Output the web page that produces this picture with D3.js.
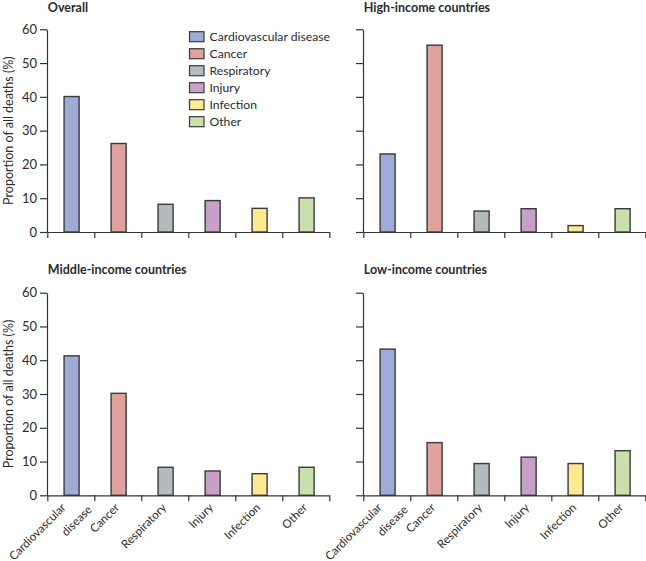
<!DOCTYPE html>
<html><head><meta charset="utf-8">
<script src="https://cdn.jsdelivr.net/npm/d3@7"></script>
<style>
body{margin:0;background:#fff;}
text{font-family:Lato,"Open Sans",sans-serif;fill:#2b2b2b;}
</style></head>
<body><svg id="c" width="646" height="561"></svg>
<script>
const categories = ["Cardiovascular disease","Cancer","Respiratory","Injury","Infection","Other"];
const xLabels = [["Cardiovascular","disease"],["Cancer"],["Respiratory"],["Injury"],["Infection"],["Other"]];
const colors = ["#9eabd5","#dfa29c","#b3bbbf","#c6a0c6","#fde98f","#c8e0ab"];
const panelTitles = ["Overall","High-income countries","Middle-income countries","Low-income countries"];
const overall = [40.1, 26.2, 8.2, 9.3, 7.0, 10.1];
const highIncome = [23.1, 55.3, 6.2, 6.9, 1.9, 6.9];
const middleIncome = [41.3, 30.2, 8.3, 7.2, 6.4, 8.3];
const lowIncome = [43.3, 15.6, 9.4, 11.3, 9.4, 13.2];
const yTicks = [0,10,20,30,40,50,60];
const yTitle = "Proportion of all deaths (%)";

const series = [overall, highIncome, middleIncome, lowIncome];
const svg = d3.select("#c");
const panels = [
  {x0:47.3, x1:329.3, yTop:29.3, yBot:232, left:true, bottomLabels:false, titleY:11.5},
  {x0:363.3, x1:645.3, yTop:29.3, yBot:232, left:false, bottomLabels:false, titleY:11.5},
  {x0:47.3, x1:329.3, yTop:292.7, yBot:495.3, left:true, bottomLabels:true, titleY:273.5},
  {x0:363.3, x1:645.3, yTop:292.7, yBot:495.3, left:false, bottomLabels:true, titleY:273.5}
];

panels.forEach((p,i)=>{
  const g = svg.append("g");
  const y = d3.scaleLinear().domain([0,60]).range([p.yBot,p.yTop]);
  const xb = d3.scaleBand().domain(categories).range([p.x0,p.x1]).paddingInner(0.68).paddingOuter(0.34);
  const xl = d3.scaleLinear().domain([0,6]).range([p.x0,p.x1]);

  // bars
  g.selectAll("rect.bar").data(series[i]).enter().append("rect")
    .attr("x",(d,j)=>xb(categories[j])+0.8)
    .attr("y",d=>y(d))
    .attr("width",xb.bandwidth())
    .attr("height",d=>p.yBot-y(d))
    .attr("fill",(d,j)=>colors[j])
    .attr("stroke","#3a3a3a").attr("stroke-width",1.4);

  // y axis
  const ya = d3.axisLeft(y).tickValues(yTicks).tickSize(7).tickSizeOuter(0).tickPadding(3)
    .tickFormat(p.left? d3.format("d") : ()=> "");
  const yg = g.append("g").attr("transform",`translate(${p.x0-0.3},0)`).call(ya);
  yg.selectAll("path,line").attr("stroke","#333").attr("stroke-width",1.2);
  yg.selectAll("text").style("font-size","13px").attr("fill","#333").style("font-family","Lato,sans-serif");

  // x axis
  const xa = d3.axisBottom(xl).tickValues(d3.range(7)).tickSize(6).tickSizeOuter(0).tickFormat(()=> "");
  const xg = g.append("g").attr("transform",`translate(0,${p.yBot})`).call(xa);
  xg.selectAll("path,line").attr("stroke","#333").attr("stroke-width",1.2);

  // title
  g.append("text").attr("x",p.x0+0.5).attr("y",p.titleY)
    .style("font-weight","bold").style("font-size","12.5px").text(panelTitles[i]);

  // y title
  if(p.left){
    g.append("text").attr("transform",`translate(13,${(p.yTop+p.yBot)/2}) rotate(-90)`)
      .attr("text-anchor","middle").style("font-size","12.5px").text(yTitle);
  }

  // x labels
  if(p.bottomLabels){
    const fs = "11.6px";
    xLabels.forEach((lines,j)=>{
      const cx = xb(categories[j]) + 0.8 + xb.bandwidth()/2;
      if(lines.length===1){
        g.append("text").attr("transform",`translate(${cx+1.5},${p.yBot+13}) rotate(-45)`)
          .attr("text-anchor","end").style("font-size",fs).text(lines[0]);
      } else {
        g.append("text").attr("transform",`translate(${cx-5},${p.yBot+13}) rotate(-45)`)
          .attr("text-anchor","end").style("font-size",fs).text(lines[0]);
        g.append("text").attr("transform",`translate(${cx+21},${p.yBot+15}) rotate(-45)`)
          .attr("text-anchor","end").style("font-size",fs).text(lines[1]);
      }
    });
  }

  // legend
  if(i===0){
    const lg = g.append("g").attr("transform","translate(189.5,31.7)");
    categories.forEach((c,j)=>{
      lg.append("rect").attr("x",0).attr("y",j*17).attr("width",14.5).attr("height",10)
        .attr("fill",colors[j]).attr("stroke","#3a3a3a").attr("stroke-width",1.2);
      lg.append("text").attr("x",20).attr("y",j*17+9.5).style("font-size","12.2px").text(c);
    });
  }
});
</script></body></html>
